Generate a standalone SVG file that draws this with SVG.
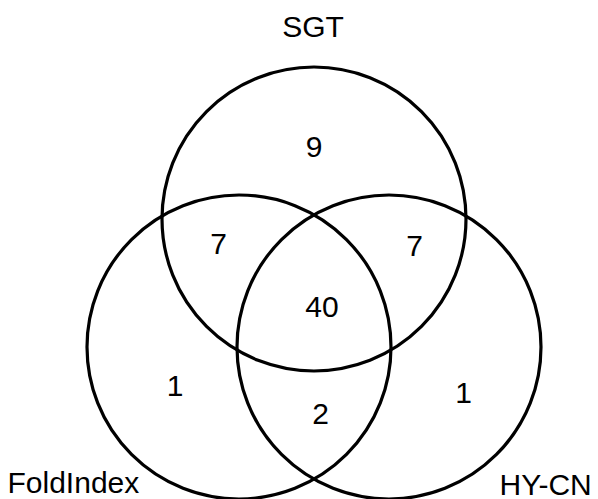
<svg xmlns="http://www.w3.org/2000/svg" width="598" height="499" viewBox="0 0 598 499">
<style>
.c{fill:none;stroke:#000;stroke-width:3.2}
text{font-family:"Liberation Sans",Arial,sans-serif;font-size:30px;fill:#000}
.m{text-anchor:middle}
</style>
<rect width="598" height="499" fill="#fff"/>
<g id="sgt"><circle class="c" cx="314" cy="219" r="152"/><text class="m" x="313" y="37">SGT</text></g>
<g id="foldindex"><circle class="c" cx="239" cy="347" r="152"/><text x="7.5" y="493">FoldIndex</text></g>
<g id="hycn"><circle class="c" cx="389" cy="347" r="152"/><text x="499.5" y="495">HY-CN</text></g>
<g id="counts">
<text class="m" x="314" y="157">9</text>
<text class="m" x="218.5" y="253.5">7</text>
<text class="m" x="414.5" y="255.5">7</text>
<text class="m" x="322" y="317">40</text>
<text class="m" x="175" y="396">1</text>
<text class="m" x="463.5" y="402.5">1</text>
<text class="m" x="320.5" y="423.5">2</text>
</g>
<g id="connectors"></g>
</svg>
